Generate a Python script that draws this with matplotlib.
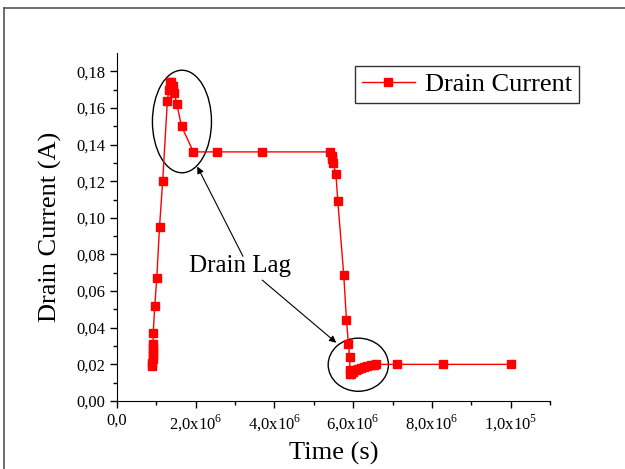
import numpy as np
import matplotlib
matplotlib.use('Agg')
import matplotlib.pyplot as plt
from matplotlib.patches import Ellipse
from matplotlib.lines import Line2D

plt.rcParams['font.family'] = ['Liberation Serif', 'DejaVu Serif']
plt.rcParams['mathtext.fontset'] = 'custom'
plt.rcParams['mathtext.rm'] = 'Liberation Serif'

# drain current transient (time in s, current in A)
time = [0.90e6, 0.90e6, 0.905e6, 0.905e6, 0.91e6, 0.91e6, 0.915e6, 0.92e6,
        0.96e6, 1.01e6, 1.08e6, 1.16e6, 1.28e6, 1.32e6, 1.35e6, 1.38e6,
        1.42e6, 1.46e6, 1.52e6, 1.64e6, 1.94e6, 2.53e6, 3.69e6, 5.42e6,
        5.45e6, 5.47e6, 5.49e6, 5.56e6, 5.61e6, 5.76e6, 5.83e6, 5.88e6,
        5.91e6, 5.92e6, 5.93e6, 5.95e6, 6.00e6, 6.06e6, 6.12e6, 6.20e6,
        6.28e6, 6.36e6, 6.44e6, 6.52e6, 6.59e6, 7.11e6, 8.28e6, 1.0e7]
current = [0.019, 0.021, 0.023, 0.025, 0.027, 0.029, 0.031, 0.037,
           0.052, 0.067, 0.095, 0.120, 0.164, 0.170, 0.174, 0.174,
           0.172, 0.168, 0.162, 0.150, 0.136, 0.136, 0.136, 0.136,
           0.134, 0.132, 0.130, 0.124, 0.109, 0.069, 0.044, 0.031,
           0.024, 0.017, 0.015, 0.015, 0.016, 0.017, 0.0175, 0.018,
           0.0185, 0.019, 0.0195, 0.0198, 0.020, 0.020, 0.020, 0.020]

xticks = [0, 2e6, 4e6, 6e6, 8e6, 1e7]
xticklabels = ['0,0', r'2,0x10$^{\mathrm{6}}$', r'4,0x10$^{\mathrm{6}}$',
               r'6,0x10$^{\mathrm{6}}$', r'8,0x10$^{\mathrm{6}}$',
               r'1,0x10$^{\mathrm{5}}$']
yticks = [0, 0.02, 0.04, 0.06, 0.08, 0.10, 0.12, 0.14, 0.16, 0.18]
yticklabels = ['0,00', '0,02', '0,04', '0,06', '0,08', '0,10', '0,12',
               '0,14', '0,16', '0,18']

fig = plt.figure(figsize=(6.25, 4.69), dpi=100)
ax = fig.add_axes([0.1872, 0.145, 0.6928, 0.742])

ax.plot(time, current, color='red', lw=1, marker='s', ms=6,
        mfc='red', mec='red', label='Drain Current')

ax.set_xlim(0, 1.1e7)
ax.set_ylim(0, 0.19)
ax.set_xticks(xticks)
ax.set_xticklabels(xticklabels)
ax.set_yticks(yticks)
ax.set_yticklabels(yticklabels)
ax.set_xticks(np.arange(1e6, 1.1e7 + 1, 2e6), minor=True)
ax.set_yticks(np.arange(0.01, 0.19, 0.02), minor=True)
ax.tick_params(which='major', direction='out', length=5, width=1, labelsize=12)
ax.tick_params(which='minor', direction='out', length=3, width=1)
for s in ['top', 'right']:
    ax.spines[s].set_visible(False)

ax.set_xlabel('Time (s)', fontsize=19, labelpad=6)
ax.set_ylabel('Drain Current (A)', fontsize=19, labelpad=10)

# circled lag regions with arrows
ax.add_patch(Ellipse((1.65e6, 0.1526), 1.5e6, 0.056, fill=False, ec='black', lw=1))
ax.add_patch(Ellipse((6.13e6, 0.0198), 1.53e6, 0.029, fill=False, ec='black', lw=1))
ax.text(1.82e6, 0.0735, 'Drain Lag', fontsize=18, va='center', ha='left')
ax.annotate('', xy=(2.04e6, 0.128), xytext=(3.2e6, 0.079),
            arrowprops=dict(arrowstyle='-|>', color='black', lw=0.8,
                            mutation_scale=10, shrinkA=0, shrinkB=0))
ax.annotate('', xy=(5.57e6, 0.0318), xytext=(3.69e6, 0.066),
            arrowprops=dict(arrowstyle='-|>', color='black', lw=0.8,
                            mutation_scale=10, shrinkA=0, shrinkB=0))

leg = ax.legend(loc='upper right', bbox_to_anchor=(1.067, 0.963), fontsize=19,
                frameon=True, fancybox=False, handlelength=2.0,
                borderpad=0.25, handletextpad=0.4, borderaxespad=0)
leg.get_frame().set_edgecolor('black')
leg.get_frame().set_linewidth(1)

# outer page frame
fig.add_artist(Line2D([4 / 625, 4 / 625], [0, 1 - 8 / 469], color='#555555', lw=1.2))
fig.add_artist(Line2D([4 / 625, 1], [1 - 8 / 469, 1 - 8 / 469], color='#555555', lw=1.2))

fig.savefig('out.png', dpi=100)
